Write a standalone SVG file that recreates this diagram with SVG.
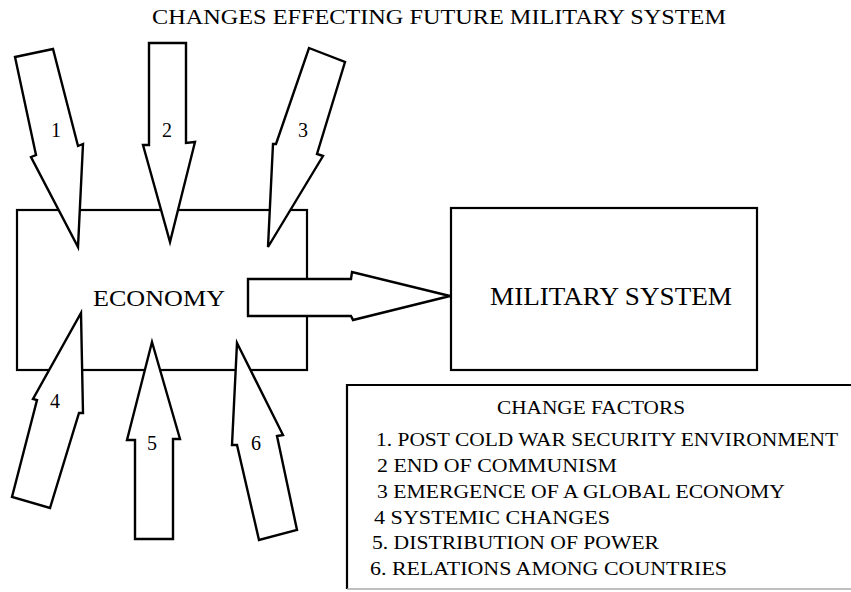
<svg xmlns="http://www.w3.org/2000/svg" width="851" height="592" viewBox="0 0 851 592" font-family="'Liberation Serif', 'DejaVu Serif', serif">
<style>
.box{fill:#fff;stroke:#000;stroke-width:2.2}
.arr{fill:#fff;stroke:#000;stroke-width:2.4;stroke-linejoin:miter}
.t{font-family:'Liberation Serif','DejaVu Serif',serif;fill:#000}
.num{font-size:20px;text-anchor:middle}
.leg{font-size:19px}
</style>
<rect width="851" height="592" fill="#fff"/>
<text id="title" class="t" x="152" y="24" font-size="20" textLength="574" lengthAdjust="spacingAndGlyphs">CHANGES EFFECTING FUTURE MILITARY SYSTEM</text>
<g id="economy">
<rect class="box" x="17" y="210" width="290" height="160"/>
<text class="t" x="93" y="306" font-size="24" textLength="132" lengthAdjust="spacingAndGlyphs">ECONOMY</text>
</g>
<g id="military">
<rect class="box" x="451" y="208" width="306" height="162"/>
<text class="t" x="490" y="305" font-size="26" textLength="242" lengthAdjust="spacingAndGlyphs">MILITARY SYSTEM</text>
</g>
<g id="connectors">
<g id="arrow1"><polygon class="arr" points="15,57 53,49 78,146 83,144 78,247 31,157 36,155"/><text class="t num" x="56" y="137">1</text></g>
<g id="arrow2"><polygon class="arr" points="149,43 186,43 186,143 195,142 170,242 143,145 149,145"/><text class="t num" x="167" y="137">2</text></g>
<g id="arrow3"><polygon class="arr" points="309,48 345,62 317,154 323,156 268,247 273,144 276,144"/><text class="t num" x="303" y="137">3</text></g>
<g id="arrow4"><polygon class="arr" points="81,313 83,413 79,413 50,508 12,497 37,400 33,399"/><text class="t num" x="55" y="408">4</text></g>
<g id="arrow5"><polygon class="arr" points="152,342 180,439 173,439 173,539 135,539 135,440 127,440"/><text class="t num" x="152" y="450">5</text></g>
<g id="arrow6"><polygon class="arr" points="237,343 283,435 277,436 297,530 259,540 237,445 232,445"/><text class="t num" x="256" y="450">6</text></g>
<g id="arrow-main"><polygon class="arr" points="248,279 351,279 352,272 450,296 353,320 351,316 248,316"/></g>
</g>
<g id="legend">
<path d="M851,385 H347 V589" fill="none" stroke="#000" stroke-width="2.2"/>
<line x1="347" y1="589" x2="851" y2="589" stroke="#aaa" stroke-width="1.5"/>
<text class="t leg" x="497" y="414" textLength="188" lengthAdjust="spacingAndGlyphs">CHANGE FACTORS</text>
<text class="t leg" x="376" y="446" textLength="462" lengthAdjust="spacingAndGlyphs">1. POST COLD WAR SECURITY ENVIRONMENT</text>
<text class="t leg" x="377" y="472" textLength="240" lengthAdjust="spacingAndGlyphs">2 END OF COMMUNISM</text>
<text class="t leg" x="377" y="498" textLength="408" lengthAdjust="spacingAndGlyphs">3 EMERGENCE OF A GLOBAL ECONOMY</text>
<text class="t leg" x="374" y="524" textLength="236" lengthAdjust="spacingAndGlyphs">4 SYSTEMIC CHANGES</text>
<text class="t leg" x="372" y="549" textLength="287" lengthAdjust="spacingAndGlyphs">5. DISTRIBUTION OF POWER</text>
<text class="t leg" x="370" y="575" textLength="357" lengthAdjust="spacingAndGlyphs">6. RELATIONS AMONG COUNTRIES</text>
</g>
</svg>
